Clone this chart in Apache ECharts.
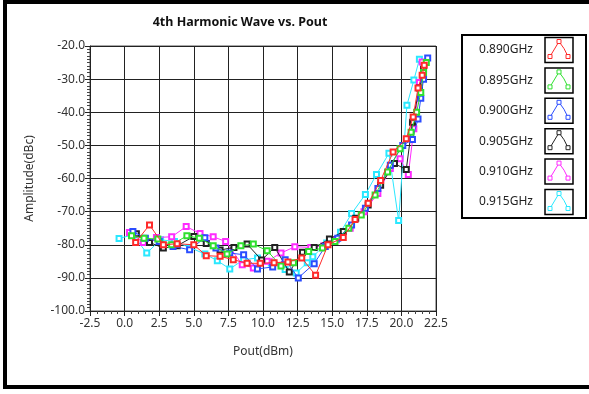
<!DOCTYPE html>
<html>
<head>
<meta charset="utf-8">
<script src="https://cdn.jsdelivr.net/npm/echarts@6/dist/echarts.min.js"></script>
<style>html,body{margin:0;padding:0;background:#fff;}#c{width:589px;height:394px;}</style>
</head>
<body>
<div id="c"></div>
<script>
const titleText = '4th Harmonic Wave vs. Pout';
const xName = 'Pout(dBm)';
const yName = 'Amplitude(dBc)';
const seriesNames = ['0.890GHz','0.895GHz','0.900GHz','0.905GHz','0.910GHz','0.915GHz'];
const seriesColors = ['#ff2a2a','#2ee02e','#2a4cff','#222222','#ff2aff','#2ae8ff'];

const s0890 = [[0.8,-79.3],[1.8,-74],[2.8,-80],[3.8,-79.7],[5.0,-80],[5.9,-83.3],[6.9,-83.5],[7.85,-84.5],[8.85,-85.6],[9.8,-85.6],[10.8,-85.4],[11.8,-85.2],[12.8,-84],[13.8,-89.2],[14.7,-80],[15.8,-77.8],[16.65,-72.4],[17.6,-67.5],[18.5,-60.6],[19.4,-52],[20.35,-48],[20.85,-41.4],[21.2,-32.7],[21.5,-28.8],[21.65,-25.8]];
const s0895 = [[0.5,-77.3],[1.4,-78],[2.4,-78.3],[3.4,-80],[4.5,-77.3],[5.4,-78],[6.4,-80.3],[7.4,-82.8],[8.4,-80.3],[9.3,-79.8],[10.3,-81.8],[11.3,-86.4],[12.2,-85.4],[13.3,-82],[14.3,-81],[15.2,-79],[16.2,-75],[17.1,-71],[18.1,-65],[19.0,-58],[19.9,-51],[20.7,-46],[21.1,-40],[21.4,-34],[21.6,-28],[21.8,-25]];
const s0900 = [[0.6,-76],[1.5,-78],[2.5,-79],[3.5,-80.5],[4.7,-81.5],[5.8,-77.9],[6.6,-81],[7.6,-82.5],[8.6,-83],[9.6,-87.3],[10.7,-86.7],[11.6,-84.5],[12.55,-90],[13.7,-85.7],[14.5,-80.5],[15.4,-78],[16.4,-74],[17.4,-69],[18.3,-63],[19.2,-56],[20.1,-50],[20.8,-48.2],[21.2,-42],[21.4,-35.8],[21.6,-30],[21.9,-23.6]];
const s0905 = [[0.85,-76.7],[1.8,-79.3],[2.8,-81],[3.8,-80.3],[5.0,-77.5],[5.9,-79.6],[6.9,-81.6],[7.9,-80.8],[8.85,-79.8],[9.9,-84.6],[10.85,-80.8],[11.9,-88.2],[12.85,-82.3],[13.7,-80.8],[14.8,-78.3],[15.8,-76],[16.7,-72],[17.6,-68],[18.5,-62],[19.5,-55.5],[20.35,-57.3],[20.8,-43],[21.3,-32.7],[21.6,-27]];
const s0910 = [[0.35,-76.3],[1.35,-79.3],[2.3,-77.8],[3.4,-77.6],[4.45,-74.5],[5.45,-76.6],[6.4,-77.6],[7.3,-79],[8.5,-86],[9.3,-87],[10.3,-85],[11.3,-82.5],[12.3,-80.6],[13.45,-80.8],[14.4,-80.3],[15.3,-78.5],[16.3,-75],[17.3,-70],[18.3,-64.5],[19.2,-57],[19.9,-54],[20.5,-58.8],[20.9,-45],[21.3,-31],[21.5,-24.8]];
const s0915 = [[-0.4,-78.1],[0.6,-77],[1.6,-82.5],[2.6,-78.5],[3.6,-79],[4.7,-80.8],[5.8,-82.8],[6.7,-84.8],[7.6,-87.3],[8.6,-84.5],[9.6,-84],[10.6,-85.5],[11.6,-87.5],[12.4,-88.5],[13.2,-85.4],[13.6,-83.6],[14.6,-79.5],[15.6,-76.2],[16.4,-70.6],[17.4,-64.8],[18.2,-58.8],[19.1,-52.4],[19.8,-72.7],[20.4,-37.9],[20.9,-30.3],[21.3,-24]];
const seriesData = [s0890, s0895, s0900, s0905, s0910, s0915];

const chart = echarts.init(document.getElementById('c'), null, {renderer:'canvas'});
const FONT = 'Noto Sans';

const series = [];
for (let i = seriesData.length - 1; i >= 0; i--) {
  series.push({
    name: seriesNames[i], type: 'line', data: seriesData[i],
    symbol: 'emptyRect', symbolSize: 5, showAllSymbol: true,
    lineStyle: {color: seriesColors[i], width: 1},
    itemStyle: {color: seriesColors[i], borderColor: seriesColors[i], borderWidth: 1},
    animation: false, z: 10 + (seriesData.length - i)
  });
}

// legend drawn as graphic
const lg = [];
const LX = 462, LY = 35, LW = 124, LH = 183;
lg.push({type:'rect', shape:{x:LX, y:LY, width:LW, height:LH}, style:{fill:'#fff', stroke:'#000', lineWidth:2}, z:50});
seriesNames.forEach((n, i) => {
  const cy = 50 + i * 30.4;
  lg.push({type:'text', style:{text:n, x:506, y:cy, textAlign:'center', textVerticalAlign:'middle', font:'12px "'+FONT+'"', fill:'#222'}, z:51});
  const bx = 545, by = cy - 12.5;
  lg.push({type:'rect', shape:{x:bx, y:by, width:28, height:25}, style:{fill:'#fff', stroke:'#000', lineWidth:1.5}, z:51});
  const pts = [[bx+5, by+19],[bx+14, by+4],[bx+19, by+11],[bx+23, by+19]];
  lg.push({type:'polyline', shape:{points:pts}, style:{fill:null, stroke:seriesColors[i], lineWidth:1}, z:52});
  [pts[0], pts[1], pts[3]].forEach(p => {
    lg.push({type:'rect', shape:{x:p[0]-2, y:p[1]-2, width:4, height:4}, style:{fill:'#fff', stroke:seriesColors[i], lineWidth:1}, z:53});
  });
});
// outer frame
lg.push({type:'rect', shape:{x:5, y:2, width:640, height:385}, style:{fill:null, stroke:'#000', lineWidth:4}, z:60});

chart.setOption({
  backgroundColor: '#fff',
  animation: false,
  title: {text: titleText, left: 235, top: 11, textAlign: 'center',
    textStyle: {fontFamily: FONT, fontWeight: 'bold', fontSize: 12.5, color: '#111'}},
  grid: {left: 90, right: 153, top: 46, bottom: 83, show: true, borderColor: '#555', borderWidth: 1},
  xAxis: {
    type: 'value', min: -2.5, max: 22.5, interval: 2.5,
    name: xName, nameLocation: 'middle', nameGap: 35,
    nameTextStyle: {fontFamily: FONT, fontSize: 12, color: '#333'},
    axisLine: {show: true, onZero: false, lineStyle: {color: '#222', width: 1}},
    axisTick: {show: true, length: 5, lineStyle: {color: '#222'}},
    minorTick: {show: true, splitNumber: 5, length: 3, lineStyle: {color: '#444'}},
    axisLabel: {fontFamily: FONT, fontSize: 12, color: '#333', margin: 7, formatter: v => v.toFixed(1)},
    splitLine: {show: true, lineStyle: {color: '#222', width: 1}}
  },
  yAxis: {
    type: 'value', min: -100, max: -20, interval: 10,
    name: yName, nameLocation: 'middle', nameGap: 54,
    nameTextStyle: {fontFamily: FONT, fontSize: 12, color: '#333'},
    axisLine: {show: true, onZero: false, lineStyle: {color: '#222', width: 1}},
    axisTick: {show: true, length: 5, lineStyle: {color: '#222'}},
    minorTick: {show: true, splitNumber: 10, length: 3, lineStyle: {color: '#444'}},
    axisLabel: {fontFamily: FONT, fontSize: 12, color: '#333', margin: 5, formatter: v => v.toFixed(1)},
    splitLine: {show: true, lineStyle: {color: '#222', width: 1}}
  },
  series: series,
  graphic: lg
});
</script>
</body>
</html>
